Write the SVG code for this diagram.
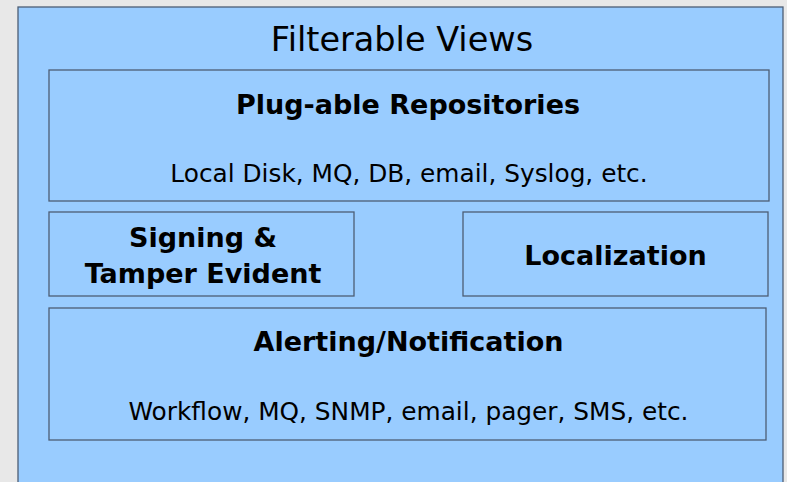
<svg xmlns="http://www.w3.org/2000/svg" width="787" height="482" viewBox="0 0 787 482">
<style>
.box{fill:#99ccff;stroke:#4d5e75;stroke-width:1.3}
.t{font-family:"DejaVu Sans",Verdana,sans-serif;fill:#000;text-anchor:middle}
.b{font-weight:bold;font-size:27px}
.s{font-size:24.8px}
</style>
<rect x="0" y="0" width="787" height="482" fill="#e8e8e8"/>
<g id="filterable-views">
<rect class="box" x="18" y="7" width="765" height="490"/>
<text class="t" x="402" y="50.5" font-size="33.5">Filterable Views</text>
</g>
<g id="plugable-repositories">
<rect class="box" x="49" y="70" width="720" height="131"/>
<text class="t b" x="408" y="113.5">Plug-able Repositories</text>
<text class="t s" x="409" y="182">Local Disk, MQ, DB, email, Syslog, etc.</text>
</g>
<g id="signing">
<rect class="box" x="49" y="212" width="305" height="84"/>
<text class="t b" x="203" y="247">Signing &amp;</text>
<text class="t b" x="203" y="283">Tamper Evident</text>
</g>
<g id="localization">
<rect class="box" x="463" y="212" width="305" height="84"/>
<text class="t b" x="615.5" y="265">Localization</text>
</g>
<g id="alerting">
<rect class="box" x="49" y="308" width="717" height="132"/>
<text class="t b" x="408.5" y="350.5">Alerting/Notification</text>
<text class="t s" x="408.5" y="420">Workflow, MQ, SNMP, email, pager, SMS, etc.</text>
</g>
<g id="connectors"></g>
</svg>
